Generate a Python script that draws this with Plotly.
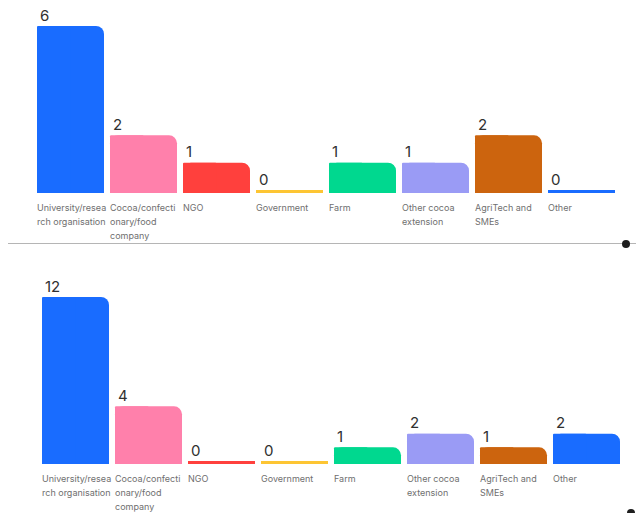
import plotly.graph_objects as go

# Stakeholder categories (labels wrapped as displayed) and response counts per question
CATEGORY_LABELS = [
    "University/resea<br>rch organisation",
    "Cocoa/confecti<br>onary/food<br>company",
    "NGO",
    "Government",
    "Farm",
    "Other cocoa<br>extension",
    "AgriTech and<br>SMEs",
    "Other",
]
COUNTS_TOP = [6, 2, 1, 0, 1, 1, 2, 0]
COUNTS_BOTTOM = [12, 4, 0, 0, 1, 2, 1, 2]
BAR_COLORS = ["#196cff", "#ff80ab", "#ff403d", "#fdc533",
              "#00d88f", "#9a9bf5", "#cc640e", "#196cff"]

W, H = 636, 513
PITCH = 73          # px per category slot
BAR_W = 67 / PITCH  # bar width in category units
STRIP_PX = 3        # baseline strip height (shows zero-count bars)
LABEL_FONT = "Inter, Noto Sans, sans-serif"

fig = go.Figure()


def add_panel(idx, counts, left_px, base_px, tallest_px, top_px):
    xa = "x" if idx == 1 else f"x{idx}"
    ya = "y" if idx == 1 else f"y{idx}"
    xname = "xaxis" if idx == 1 else f"xaxis{idx}"
    yname = "yaxis" if idx == 1 else f"yaxis{idx}"

    n = len(counts)
    vmax = max(counts)
    ppu = (base_px - STRIP_PX - tallest_px) / vmax
    strip = STRIP_PX / ppu
    y_hi = (base_px - STRIP_PX - top_px) / ppu

    x0_px = left_px - (PITCH - 67) / 2
    x1_px = x0_px + n * PITCH
    xs = list(range(n))

    # rounded bars (both top corners)
    fig.add_trace(go.Bar(
        x=xs, y=counts, width=BAR_W, marker_color=BAR_COLORS,
        marker_line_width=0, marker_cornerradius=8,
        xaxis=xa, yaxis=ya, hoverinfo="skip", showlegend=False))
    # left half with a square corner
    fig.add_trace(go.Bar(
        x=xs, y=counts, width=BAR_W / 2, offset=-BAR_W / 2,
        marker_color=BAR_COLORS, marker_line_width=0, marker_cornerradius=1,
        xaxis=xa, yaxis=ya, hoverinfo="skip", showlegend=False))
    # thin baseline strip under every bar
    fig.add_trace(go.Bar(
        x=xs, y=[strip] * n, base=[-strip] * n, width=BAR_W,
        marker_color=BAR_COLORS, marker_line_width=0,
        xaxis=xa, yaxis=ya, hoverinfo="skip", showlegend=False))

    fig.layout[xname] = dict(
        domain=[x0_px / W, x1_px / W], range=[-0.5, n - 0.5],
        visible=False, fixedrange=True, anchor=ya)
    fig.layout[yname] = dict(
        domain=[(H - base_px) / H, (H - top_px) / H], range=[-strip, y_hi],
        visible=False, fixedrange=True, anchor=xa)

    for i, (v, lab) in enumerate(zip(counts, CATEGORY_LABELS)):
        # count above the bar
        fig.add_annotation(
            x=i - BAR_W / 2, y=v, xref=xa, yref=ya, text=str(v),
            xanchor="left", yanchor="middle", xshift=1, yshift=11,
            showarrow=False, font=dict(family=LABEL_FONT, size=15, color="#303030"))
        # category name below the bar, one annotation per line
        for k, line in enumerate(lab.split("<br>")):
            fig.add_annotation(
                x=i - BAR_W / 2, y=-strip, xref=xa, yref=ya, text=line,
                xanchor="left", yanchor="middle", xshift=-2, yshift=-14 - 14 * k,
                showarrow=False, font=dict(family=LABEL_FONT, size=9, color="#6f6f6f"))


add_panel(1, COUNTS_TOP, left_px=37, base_px=193, tallest_px=26, top_px=5)
add_panel(2, COUNTS_BOTTOM, left_px=42, base_px=464, tallest_px=297, top_px=270)

# divider between the two panels
fig.add_shape(type="line", xref="paper", yref="paper",
              x0=8 / W, x1=1, y0=(H - 243.5) / H, y1=(H - 243.5) / H,
              line=dict(color="#b5b5b5", width=1.2))
# small round handles at the right edge
for cx, cy in [(626, 244), (631, 513)]:
    fig.add_shape(type="circle", xref="paper", yref="paper",
                  x0=(cx - 4) / W, x1=(cx + 4) / W,
                  y0=(H - cy - 4) / H, y1=(H - cy + 4) / H,
                  fillcolor="#1e1e1e", line_width=0)

fig.update_layout(
    width=W, height=H, margin=dict(l=0, r=0, t=0, b=0),
    paper_bgcolor="white", plot_bgcolor="rgba(0,0,0,0)",
    barmode="overlay", showlegend=False)

fig.write_html("out.html", config={"displayModeBar": False})
